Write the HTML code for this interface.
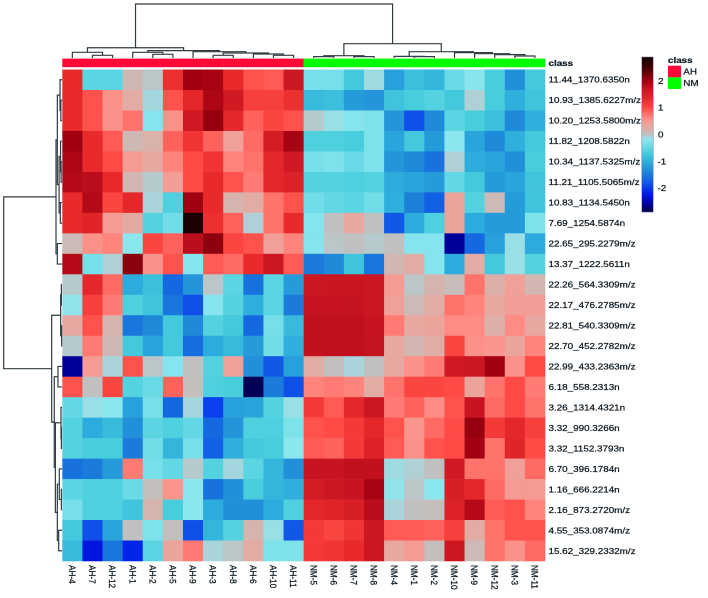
<!DOCTYPE html>
<html>
<head>
<meta charset="utf-8">
<title>Clustered heatmap AH vs NM</title>
<style>
html,body{margin:0;padding:0;background:#fff;width:708px;height:598px;overflow:hidden}
svg{display:block;filter:blur(0.35px)}
text{font-family:"Liberation Sans",sans-serif;fill:#101c24;stroke:#101c24;stroke-width:0.25px}
</style>
</head>
<body>
<svg id="chart" xmlns="http://www.w3.org/2000/svg" width="708" height="598" viewBox="0 0 708 598"></svg>
<script>
const columns = ["AH-4","AH-7","AH-12","AH-1","AH-2","AH-5","AH-9","AH-3","AH-8","AH-6","AH-10","AH-11","NM-5","NM-6","NM-7","NM-8","NM-4","NM-1","NM-2","NM-10","NM-9","NM-12","NM-3","NM-11"];
const columnClasses = ["AH","AH","AH","AH","AH","AH","AH","AH","AH","AH","AH","AH","NM","NM","NM","NM","NM","NM","NM","NM","NM","NM","NM","NM"];
const rowsLabels = ["11.44_1370.6350n","10.93_1385.6227m/z","10.20_1253.5800m/z","11.82_1208.5822n","10.34_1137.5325m/z","11.21_1105.5065m/z","10.83_1134.5450n","7.69_1254.5874n","22.65_295.2279m/z","13.37_1222.5611n","22.26_564.3309m/z","22.17_476.2785m/z","22.81_540.3309m/z","22.70_452.2782m/z","22.99_433.2363m/z","6.18_558.2313n","3.26_1314.4321n","3.32_990.3266n","3.32_1152.3793n","6.70_396.1784n","1.16_666.2214n","2.16_873.2720m/z","4.55_353.0874m/z","15.62_329.2332m/z"];
const values = [
[1.3,-0.55,-0.55,0.1,-0.02,1.25,2.0,1.95,1.3,0.95,0.9,1.65,-0.35,-0.35,-0.75,-0.12,-1.15,-0.85,-0.95,-0.45,-0.22,-0.7,-1.3,-0.75],
[1.3,0.95,0.55,0.25,-0.1,0.95,1.35,1.9,1.6,1.1,1.1,1.25,-0.9,-0.85,-1.2,-1.25,-0.8,-0.7,-0.6,-0.75,-0.05,-0.7,-1.0,-0.8],
[1.3,0.95,0.55,0.75,-0.25,0.55,1.6,2.05,1.35,0.85,1.05,0.95,-0.03,-0.15,-0.25,-0.3,-1.25,-1.85,-1.35,-0.55,-0.7,-0.85,-1.35,-1.0],
[2.0,1.3,0.9,0.1,0.18,0.85,1.2,0.85,0.4,0.8,1.55,1.95,-0.65,-0.65,-0.7,-0.3,-1.1,-0.75,-1.2,-0.2,-1.1,-1.35,-1.0,-0.75],
[1.9,1.3,1.0,0.45,0.3,0.65,1.0,1.2,0.65,0.75,1.35,1.6,-0.35,-0.3,-0.45,-0.3,-1.25,-1.35,-1.6,-0.05,-1.05,-1.1,-1.3,-0.7],
[1.85,1.8,1.3,0.12,-0.03,0.42,1.0,1.3,0.95,0.7,1.35,1.45,-0.6,-0.6,-0.65,-0.6,-1.05,-1.1,-1.2,-0.5,-0.75,-1.2,-1.1,-0.8],
[1.3,1.85,1.05,1.35,-0.08,-0.65,2.0,1.3,0.15,0.25,0.75,0.95,-0.4,-0.5,-0.55,-0.4,-1.0,-1.45,-1.75,0.35,-0.6,0.08,-1.2,-0.8],
[1.3,1.4,0.45,0.28,-0.6,-0.4,2.8,1.25,0.85,-0.05,0.75,1.3,-0.25,0,0.3,0,-1.8,-1.05,-0.65,0.35,-1.05,-1.2,-1.2,-0.3],
[0.08,0.55,0.65,-0.2,1.05,0.85,1.8,2.1,1.05,0.95,0.4,0.65,-0.25,-0.02,0,-0.03,0,-0.25,-0.25,-2.6,-1.7,-1.15,-0.15,-1.05],
[1.85,-0.35,-0.05,2.1,0.55,0.95,-0.25,0.9,0.8,1.3,1.65,0.9,-1.5,-1.35,-0.8,-1.55,0.12,0.25,-0.25,-1.05,0.25,-0.75,-0.15,-0.6],
[-0.03,1.35,0.8,-1.05,-0.85,-1.7,-1.25,-0.02,-0.55,-1.6,-0.55,-1.2,1.65,1.66,1.68,1.65,0.45,-0.02,0.15,0.05,0.75,0.2,0.4,0.12],
[-0.18,1.1,0.7,-0.65,-0.8,-1.55,-1.85,-0.25,-0.6,-1.0,-0.55,-1.5,1.7,1.7,1.72,1.65,0.4,0.08,0.25,0.75,0.65,0.3,0.42,0.42],
[0.3,0.95,0.15,-1.55,-1.35,-0.75,-1.35,-0.6,-0.75,-1.7,-0.35,-0.9,1.75,1.76,1.76,1.7,0.7,0.3,0.35,0.6,0.6,0.2,0.6,0.3],
[-0.03,0.7,0.1,-0.75,-1.1,-0.75,-1.65,-1.05,-0.9,-1.2,-0.4,-1.0,1.75,1.76,1.76,1.72,0.3,0.12,0.22,1.05,0.55,0.5,0.35,0.65],
[-2.6,0.45,-0.08,0.95,-0.02,-0.25,0,-0.6,0.4,-1.3,-1.8,-1.15,0.25,0.02,-0.08,0,0.3,0.55,0.7,1.6,1.65,2.0,0.55,1.0],
[0.95,0,1.05,-0.6,-0.45,0.85,0.03,-0.65,-0.7,-2.85,-1.5,-1.85,0.65,0.7,0.65,0.25,0.75,1.05,1.05,1.0,0.35,0.75,1.0,0.7],
[-0.5,-0.15,-0.2,-1.15,-0.35,-1.7,-0.1,-1.95,-1.15,-1.1,-0.6,-0.15,1.15,0.9,1.35,1.65,0.7,0.85,0.6,0.95,1.7,0.8,1.0,0.75],
[-0.6,-1.05,-0.9,-1.3,-0.55,-0.65,-0.5,-1.7,-1.25,-0.65,-0.65,-0.3,0.95,1.0,1.15,1.35,0.95,0.5,0.8,1.0,2.05,1.15,1.35,1.1],
[-0.6,-0.7,-0.7,-1.5,-0.4,-0.95,-0.35,-1.75,-1.0,-0.75,-0.7,-0.2,0.9,0.85,1.15,1.45,0.9,0.55,0.95,1.0,2.0,0.75,1.4,1.0],
[-1.6,-1.5,-1.2,0.7,-0.35,-0.5,-0.03,-0.6,-0.1,-0.55,-0.95,-1.3,1.7,1.7,1.75,1.75,-0.12,-0.05,0,1.6,0.75,0.75,0.4,0.8],
[-0.55,-0.65,-0.65,-0.45,0.03,0.5,-0.2,-1.6,-1.3,-0.7,-0.95,-1.0,1.55,1.65,1.7,1.95,-0.18,-0.02,-0.2,1.5,1.35,0.8,0.45,0.45],
[-0.35,-0.65,-0.65,-0.8,0.15,-0.7,-0.2,-1.05,-1.3,-1.3,-1.05,-0.65,1.35,1.4,1.5,1.8,-0.08,0,0.03,1.45,1.85,0.9,0.95,0.65],
[-0.75,-1.85,-1.1,0,-0.3,0.02,-1.85,-0.95,-0.6,0.15,-0.15,-1.8,1.15,1.05,1.2,1.65,0.9,0.9,0.85,1.1,0.25,0.75,0.95,0.95],
[-0.9,-2.3,-1.55,-2.15,-0.55,0.35,0.7,-0.08,-0.02,0.25,-0.3,-0.3,1.15,1.2,1.3,1.65,0.3,0.45,0.03,1.65,0.08,0.75,0.55,0.8]
];
/* dendrograms: [mergeHeight, leftChild, rightChild]; a number is a leaf index */
const columnTree = [100,
  [19,[10.5,0,[5,1,2]],[13.6,[10.5,3,[6.8,4,5]],[11.7,6,[9.3,[5,7,8],[7.4,9,[5,10,11]]]]]],
  [26.5,[4.3,[2.5,12,13],[2.5,14,15]],[11.7,[3,16,[2.5,17,18]],[9.9,19,[8,20,[6.2,21,[3.7,22,23]]]]]]
];
const rowTree = [100,
  [10.3,[8,[3.4,0,[2,1,2]],[5,[2.5,3,[1.5,4,5]],[2.9,6,7]]],[8,8,9]],
  [17.7,[2.3,[1.1,10,11],[0.6,12,13]],[13.2,[6.9,14,15],[11.4,[1.7,16,[1.1,17,18]],[8,[4.6,19,[1.1,20,21]],[5.7,22,23]]]]]
];
const legendTicks = [2,1,0,-1,-2];
const classNames = ["AH","NM"];

const svg = document.getElementById('chart');
const NS = 'http://www.w3.org/2000/svg';
const colorStops = [[-2.9,'#000048'],[-2.6,'#000098'],[-2.25,'#0018e8'],[-2,'#0838f0'],[-1.7,'#1468e0'],[-1.4,'#1d85d8'],[-1,'#2fb0dc'],[-0.7,'#48cddc'],[-0.4,'#70dde8'],[-0.2,'#8ce6ee'],[-0.05,'#b0d0d5'],[0,'#c0c0c0'],[0.2,'#dcb0a8'],[0.4,'#f0a098'],[0.6,'#ff8c84'],[0.8,'#ff6a64'],[1,'#ff4a45'],[1.3,'#e82a2c'],[1.7,'#c81420'],[2,'#a00010'],[2.5,'#400000'],[2.9,'#100000']];
function hexRgb(h){return [1,3,5].map(i=>parseInt(h.substr(i,2),16));}
function colorOf(v){
  if(v<=colorStops[0][0]) return colorStops[0][1];
  for(let i=1;i<colorStops.length;i++){
    if(v<=colorStops[i][0]){
      const a=colorStops[i-1],b=colorStops[i],t=(v-a[0])/(b[0]-a[0]);
      const ca=hexRgb(a[1]),cb=hexRgb(b[1]);
      return 'rgb('+ca.map((c,k)=>Math.round(c+(cb[k]-c)*t)).join(',')+')';
    }
  }
  return colorStops[colorStops.length-1][1];
}
const plotLeft=62.3, plotRight=545, plotTop=69.5, plotBottom=561;
const cellW=(plotRight-plotLeft)/columns.length, cellH=(plotBottom-plotTop)/rowsLabels.length;
function colX(i){return plotLeft+cellW*i;}
function rowY(i){return plotTop+cellH*i;}
function colH(h){return 58-h*0.54;}
function rowH(h){return 62-h*0.583;}
function legendY(v){return 134.5-v*26.8;}
function el(tag,attrs,parent){
  const e=document.createElementNS(NS,tag);
  for(const k in attrs) e.setAttribute(k,attrs[k]);
  (parent||svg).appendChild(e);
  return e;
}
function label(str,x,y,size,opts,parent){
  opts=opts||{};
  const t=el('text',{'font-size':size,transform:'translate('+x+','+y+') scale(1.16,1)'+(opts.rotate?' rotate(90)':'')},parent);
  if(opts.bold) t.setAttribute('font-weight','bold');
  if(opts.anchor) t.setAttribute('text-anchor',opts.anchor);
  t.textContent=str;
  return t;
}

/* heatmap */
const heat=el('g',{});


values.forEach((row,r)=>row.forEach((v,c)=>{
  const cell=el('rect',{x:colX(c),y:rowY(r),width:cellW+0.3,height:cellH+0.3,fill:colorOf(v)},heat);
  
  
}));

/* class annotation bar */
const classBar=el('g',{});


const classColors={AH:'#ff0a38',NM:'#00ff00'};
columnClasses.forEach((k,c)=>{
  const seg=el('rect',{x:colX(c),y:58.6,width:cellW+0.2,height:8.6,fill:classColors[k]},classBar);
  
  
});
const classTitle=label('class',548.5,66,8.5,{bold:true});



/* dendrograms */
function drawColTree(node,group){
  if(typeof node==='number') return {p:colX(node)+cellW/2,h:0};
  const a=drawColTree(node[1],group), b=drawColTree(node[2],group), h=node[0];
  const link=el('path',{d:'M'+a.p+' '+colH(a.h)+'V'+colH(h)+'H'+b.p+'V'+colH(b.h),fill:'none',stroke:'#303c42','stroke-width':1.2},group);
  
  
  return {p:(a.p+b.p)/2,h:h};
}
function drawRowTree(node,group){
  if(typeof node==='number') return {p:rowY(node)+cellH/2,h:0};
  const a=drawRowTree(node[1],group), b=drawRowTree(node[2],group), h=node[0];
  const link=el('path',{d:'M'+rowH(a.h)+' '+a.p+'H'+rowH(h)+'V'+b.p+'H'+rowH(b.h),fill:'none',stroke:'#303c42','stroke-width':1.2},group);
  
  
  return {p:(a.p+b.p)/2,h:h};
}
const colDend=el('g',{});


drawColTree(columnTree,colDend);
const rowDend=el('g',{});


drawRowTree(rowTree,rowDend);

/* axis labels */
rowsLabels.forEach((s,r)=>{
  const t=label(s,548.5,rowY(r)+cellH/2+3,8.5);
  
  
});
columns.forEach((s,c)=>{
  const t=label(s,colX(c)+cellW/2-3.4,565,8.2,{rotate:true});
  
  
});

/* colour legend */
const bar=el('g',{});


for(let y=57;y<212;y+=1){
  const strip=el('rect',{x:642,y:y,width:11,height:1.2,fill:colorOf((134.5-y-0.5)/26.8)},bar);
  
  
}
const frame=el('rect',{x:641.8,y:57,width:11.4,height:155,fill:'none',stroke:'#70709a','stroke-width':0.5},bar);


legendTicks.forEach(v=>{
  const t=label(String(v),v<0?657.5:658,legendY(v)+3,8.5,{},bar);
  
  
});

/* class legend */
const clsLegend=el('g',{});


const clsTitle=label('class',668,63.2,8.5,{bold:true},clsLegend);


classNames.forEach((k,i)=>{
  const sw=el('rect',{x:668,y:65.7+i*11.65,width:13,height:11.65,fill:classColors[k]},clsLegend);
  
  
  const t=label(k,683.3,74.5+i*11.65,8.5,{},clsLegend);
  
  
});
</script>
</body>
</html>
